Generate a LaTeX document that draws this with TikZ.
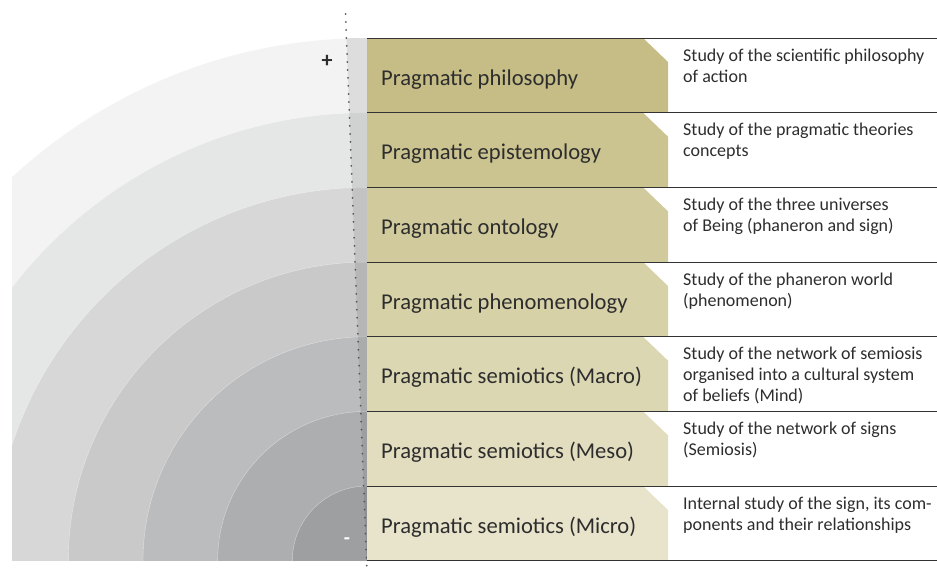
\documentclass[tikz,border=0pt]{standalone}
\usepackage{fontspec}
\setmainfont{Carlito}
\definecolor{ink}{HTML}{2D2D2D}
\definecolor{rulec}{HTML}{333333}
\definecolor{dotc}{HTML}{55575A}
% tan shades of the seven levels, darkest at the top
\definecolor{tan1}{HTML}{C5BD85}
\definecolor{tan2}{HTML}{CBC490}
\definecolor{tan3}{HTML}{D1CA9C}
\definecolor{tan4}{HTML}{D7D1A8}
\definecolor{tan5}{HTML}{DCD7B3}
\definecolor{tan6}{HTML}{E2DDBF}
\definecolor{tan7}{HTML}{E8E4CB}
% grey rings, outermost first
\definecolor{ring7}{HTML}{F3F3F3}
\definecolor{ring6}{HTML}{E5E6E6}
\definecolor{ring5}{HTML}{D7D7D7}
\definecolor{ring4}{HTML}{C9C9CA}
\definecolor{ring3}{HTML}{BBBCBD}
\definecolor{ring2}{HTML}{ADAEAF}
\definecolor{ring1}{HTML}{9E9FA1}
\begin{document}
\begin{tikzpicture}[x=1pt,y=-1pt,
  levellabel/.style={anchor=base west, inner sep=0pt, text=ink,
    font=\fontsize{22.6}{26}\selectfont},
  levelnote/.style={anchor=north west, inner sep=0pt, align=left, text=ink,
    font=\fontsize{18}{21}\selectfont},
  rowrule/.style={draw=rulec, line width=0.9pt},
  axisline/.style={draw=dotc, line width=2pt, line cap=round,
    dash pattern=on 0pt off 8pt},
]
\useasboundingbox (0,0) rectangle (937,574);

% concentric quarter rings
\begin{scope}
  \clip (12,0) rectangle (367,560.7);
  \foreach \k in {7,6,...,1}{
    \fill[fill=ring\k, draw=white, draw opacity=0.5, line width=0.4pt]
      (367,560.7) circle[radius={74.667*\k pt}];
  }
\end{scope}

% axis of levels
\coordinate (axtop) at (345.5,14);
\coordinate (axbot) at (367,573);
\fill[black, opacity=0.09] (346.4,38) -- (367,38) -- (367,560.7) -- (366.5,560.7) -- cycle;
\draw[axisline] (axtop) -- (axbot);

% level rows
\foreach \i/\lab/\txt in {
  1/{Pragmatic philosophy}/{Study of the scientific philosophy\\of action},
  2/{Pragmatic epistemology}/{Study of the pragmatic theories\\concepts},
  3/{Pragmatic ontology}/{Study of the three universes\\of Being (phaneron and sign)},
  4/{Pragmatic phenomenology}/{Study of the phaneron world\\(phenomenon)},
  5/{Pragmatic semiotics (Macro)}/{Study of the network of semiosis\\organised into a cultural system\\of beliefs (Mind)},
  6/{Pragmatic semiotics (Meso)}/{Study of the network of signs\\(Semiosis)},
  7/{Pragmatic semiotics (Micro)}/{Internal study of the sign, its com-\\ponents and their relationships}}{
  \pgfmathsetmacro\top{38+74.667*(\i-1)}
  \pgfmathsetmacro\bot{\top+74.667}
  \fill[fill=tan\i] (367,\top) -- (643,\top) -- (668,\top+24) -- (668,\bot) -- (367,\bot) -- cycle;
  \node[levellabel] (lab\i) at (381,\top+47) {\lab};
  \node[levelnote] (note\i) at (683,\top+10.5) {\txt};
  \draw[rowrule] (367,\top) -- (937,\top);
}
\draw[rowrule] (367,560.7) -- (937,560.7);

% ends of the scale
\node[text=ink, font=\bfseries\fontsize{22}{22}\selectfont, inner sep=0pt] (plus) at (327,61) {+};
\node[text=white, font=\bfseries\fontsize{20}{20}\selectfont, inner sep=0pt] (minus) at (347,541) {-};
\end{tikzpicture}
\end{document}
